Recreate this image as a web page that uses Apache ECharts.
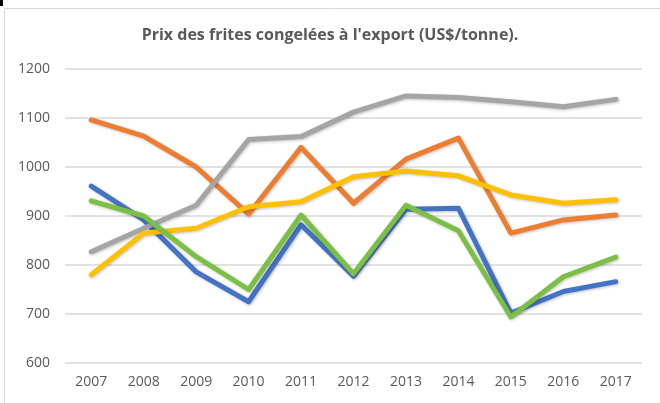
<!DOCTYPE html>
<html>
<head>
<meta charset="utf-8">
<script src="https://cdn.jsdelivr.net/npm/echarts@6/dist/echarts.min.js"></script>
<style>
  html, body { margin: 0; padding: 0; background: #fff; }
  #chart { width: 660px; height: 403px; }
</style>
</head>
<body>
<div id="chart"></div>
<script>
// prix export, US$/tonne
var years = ['2007', '2008', '2009', '2010', '2011', '2012', '2013', '2014', '2015', '2016', '2017'];
var blueVals = [961, 892, 786, 725, 882, 777, 914, 916, 702, 746, 766];
var orangeVals = [1096, 1063, 1000, 904, 1040, 926, 1016, 1059, 865, 892, 902];
var grayVals = [827, 875, 922, 1056, 1062, 1112, 1145, 1142, 1133, 1123, 1138];
var yellowVals = [780, 865, 875, 919, 929, 980, 992, 982, 943, 926, 933];
var greenVals = [931, 900, 817, 750, 902, 782, 922, 870, 694, 776, 816];

var colors = ['#4472C4', '#ED7D31', '#A5A5A5', '#FFC000', '#7CBF45'];

var chart = echarts.init(document.getElementById('chart'));

function mkLine(name, data, color) {
  return {
    name: name,
    type: 'line',
    data: data,
    symbol: 'none',
    smooth: false,
    lineStyle: {
      color: color,
      width: 5,
      cap: 'round',
      join: 'round',
      shadowColor: 'rgba(0,0,0,0.25)',
      shadowBlur: 3,
      shadowOffsetX: 1,
      shadowOffsetY: 1
    },
    itemStyle: { color: color }
  };
}

var option = {
  animation: false,
  backgroundColor: '#fff',
  title: {
    text: "Prix des frites congelées à l'export (US$/tonne).",
    left: 'center',
    top: 22,
    textStyle: {
      fontFamily: 'Open Sans',
      fontSize: 16,
      fontWeight: 'bold',
      color: '#595959'
    }
  },
  graphic: [
    {
      type: 'rect',
      shape: { x: 4.5, y: 8.5, width: 700, height: 500 },
      style: { fill: 'none', stroke: '#d9d9d9', lineWidth: 1 },
      silent: true
    },
    {
      type: 'rect',
      shape: { x: 0, y: 0, width: 3, height: 6 },
      style: { fill: '#000' },
      silent: true
    }
  ],
  grid: {
    left: 65,
    right: 18,
    top: 69,
    bottom: 40
  },
  xAxis: {
    type: 'category',
    data: years,
    boundaryGap: true,
    axisLine: { show: false },
    axisTick: { show: false },
    axisLabel: {
      color: '#595959',
      fontFamily: 'Open Sans',
      fontSize: 14,
      margin: 12
    }
  },
  yAxis: {
    type: 'value',
    min: 600,
    max: 1200,
    interval: 100,
    axisLine: { show: false },
    axisTick: { show: false },
    splitLine: { lineStyle: { color: '#d9d9d9', width: 1.5 } },
    axisLabel: {
      color: '#595959',
      fontFamily: 'Open Sans',
      fontSize: 14,
      margin: 15,
      formatter: function (v) { return String(v); }
    }
  },
  series: [
    mkLine('Série 1', blueVals, colors[0]),
    mkLine('Série 2', orangeVals, colors[1]),
    mkLine('Série 3', grayVals, colors[2]),
    mkLine('Série 4', yellowVals, colors[3]),
    mkLine('Série 5', greenVals, colors[4])
  ]
};

chart.setOption(option);
</script>
</body>
</html>
